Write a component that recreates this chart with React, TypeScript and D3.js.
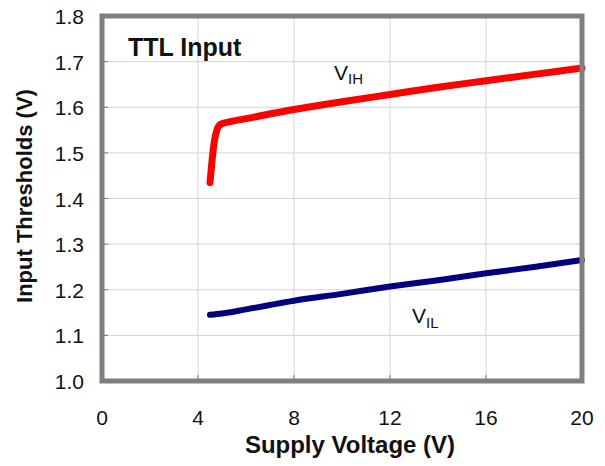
import React, { useEffect, useRef } from 'react';
import * as d3 from 'd3';

// supply voltage (V) vs. input threshold (V)
const vihSupply = [4.5, 4.58, 4.68, 4.8, 4.95, 5.3, 6, 8, 10, 12, 14, 16, 18, 20];
const vihValues = [1.435, 1.48, 1.525, 1.552, 1.563, 1.568, 1.575, 1.595, 1.612, 1.628, 1.644, 1.658, 1.672, 1.686];

const vilSupply = [4.5, 5, 6, 8, 10, 12, 14, 16, 18, 20];
const vilValues = [1.145, 1.148, 1.157, 1.176, 1.191, 1.207, 1.221, 1.236, 1.25, 1.265];

const xTicks = [0, 4, 8, 12, 16, 20];
const yTicks = [1.0, 1.1, 1.2, 1.3, 1.4, 1.5, 1.6, 1.7, 1.8];

const FONT = '"Liberation Sans", Arial, sans-serif';

export default function App() {
  const svgRef = useRef<SVGSVGElement>(null);

  useEffect(() => {
    if (!svgRef.current) return;
    const width = 605;
    const height = 466;
    const margin = { top: 16, right: 23, bottom: 85, left: 102 };

    const svg = d3.select(svgRef.current)
      .attr('width', width)
      .attr('height', height);
    svg.selectAll('*').remove();

    const x = d3.scaleLinear().domain([0, 20]).range([margin.left, width - margin.right]);
    const y = d3.scaleLinear().domain([1.0, 1.8]).range([height - margin.bottom, margin.top]);

    svg.append('rect').attr('width', width).attr('height', height).attr('fill', '#fff');

    // grid
    svg.append('g').selectAll('line')
      .data(xTicks.slice(1, -1))
      .enter().append('line')
      .attr('x1', d => x(d)).attr('x2', d => x(d))
      .attr('y1', y(1.8)).attr('y2', y(1.0))
      .attr('stroke', '#d4d4d4').attr('stroke-width', 1);

    svg.append('g').selectAll('line')
      .data(yTicks.slice(1, -1))
      .enter().append('line')
      .attr('x1', x(0)).attr('x2', x(20))
      .attr('y1', d => y(d)).attr('y2', d => y(d))
      .attr('stroke', '#d4d4d4').attr('stroke-width', 1);

    // small tick marks along the bottom and left edges
    svg.append('g').selectAll('line')
      .data(xTicks)
      .enter().append('line')
      .attr('x1', d => x(d)).attr('x2', d => x(d))
      .attr('y1', y(1.0)).attr('y2', y(1.0) - 6)
      .attr('stroke', '#777').attr('stroke-width', 1);

    svg.append('g').selectAll('line')
      .data(yTicks)
      .enter().append('line')
      .attr('x1', x(0)).attr('x2', x(0) + 6)
      .attr('y1', d => y(d)).attr('y2', d => y(d))
      .attr('stroke', '#777').attr('stroke-width', 1);

    // curves
    const line = d3.line<[number, number]>()
      .x(d => x(d[0]))
      .y(d => y(d[1]))
      .curve(d3.curveMonotoneX);

    svg.append('path')
      .datum(vilSupply.map((v, i) => [v, vilValues[i]] as [number, number]))
      .attr('d', line)
      .attr('fill', 'none')
      .attr('stroke', '#000080')
      .attr('stroke-width', 6)
      .attr('stroke-linecap', 'round');

    svg.append('path')
      .datum(vihSupply.map((v, i) => [v, vihValues[i]] as [number, number]))
      .attr('d', line)
      .attr('fill', 'none')
      .attr('stroke', '#ff0000')
      .attr('stroke-width', 7)
      .attr('stroke-linecap', 'round')
      .attr('stroke-linejoin', 'round');

    // frame
    svg.append('rect')
      .attr('x', x(0)).attr('y', y(1.8))
      .attr('width', x(20) - x(0)).attr('height', y(1.0) - y(1.8))
      .attr('fill', 'none')
      .attr('stroke', '#7f7f7f')
      .attr('stroke-width', 5);

    // tick labels
    svg.append('g').selectAll('text')
      .data(xTicks)
      .enter().append('text')
      .attr('x', d => x(d))
      .attr('y', 425)
      .attr('text-anchor', 'middle')
      .attr('font-family', FONT)
      .attr('font-size', 21)
      .attr('fill', '#111')
      .text(d => d);

    svg.append('g').selectAll('text')
      .data(yTicks)
      .enter().append('text')
      .attr('x', 84)
      .attr('y', d => y(d) + 8)
      .attr('text-anchor', 'end')
      .attr('font-family', FONT)
      .attr('font-size', 21)
      .attr('fill', '#111')
      .text(d => d.toFixed(1));

    // axis titles
    svg.append('text')
      .attr('x', 350)
      .attr('y', 453)
      .attr('text-anchor', 'middle')
      .attr('font-family', FONT)
      .attr('font-size', 24)
      .attr('font-weight', 'bold')
      .attr('fill', '#111')
      .text('Supply Voltage (V)');

    svg.append('text')
      .attr('transform', `translate(32,196) rotate(-90)`)
      .attr('text-anchor', 'middle')
      .attr('font-family', FONT)
      .attr('font-size', 22)
      .attr('font-weight', 'bold')
      .attr('fill', '#111')
      .text('Input Thresholds (V)');

    // annotations
    svg.append('text')
      .attr('x', 128).attr('y', 56)
      .attr('font-family', FONT)
      .attr('font-size', 25)
      .attr('font-weight', 'bold')
      .attr('fill', '#111')
      .text('TTL Input');

    const vih = svg.append('text')
      .attr('x', 334).attr('y', 80)
      .attr('font-family', FONT)
      .attr('font-size', 21)
      .attr('fill', '#111');
    vih.append('tspan').text('V');
    vih.append('tspan').attr('dy', 4).attr('font-size', 15).text('IH');

    const vil = svg.append('text')
      .attr('x', 412).attr('y', 323)
      .attr('font-family', FONT)
      .attr('font-size', 21)
      .attr('fill', '#111');
    vil.append('tspan').text('V');
    vil.append('tspan').attr('dy', 5).attr('font-size', 15).text('IL');
  }, []);

  return (
    <svg ref={svgRef} style={{ position: 'absolute', left: 0, top: 0, display: 'block' }} />
  );
}
